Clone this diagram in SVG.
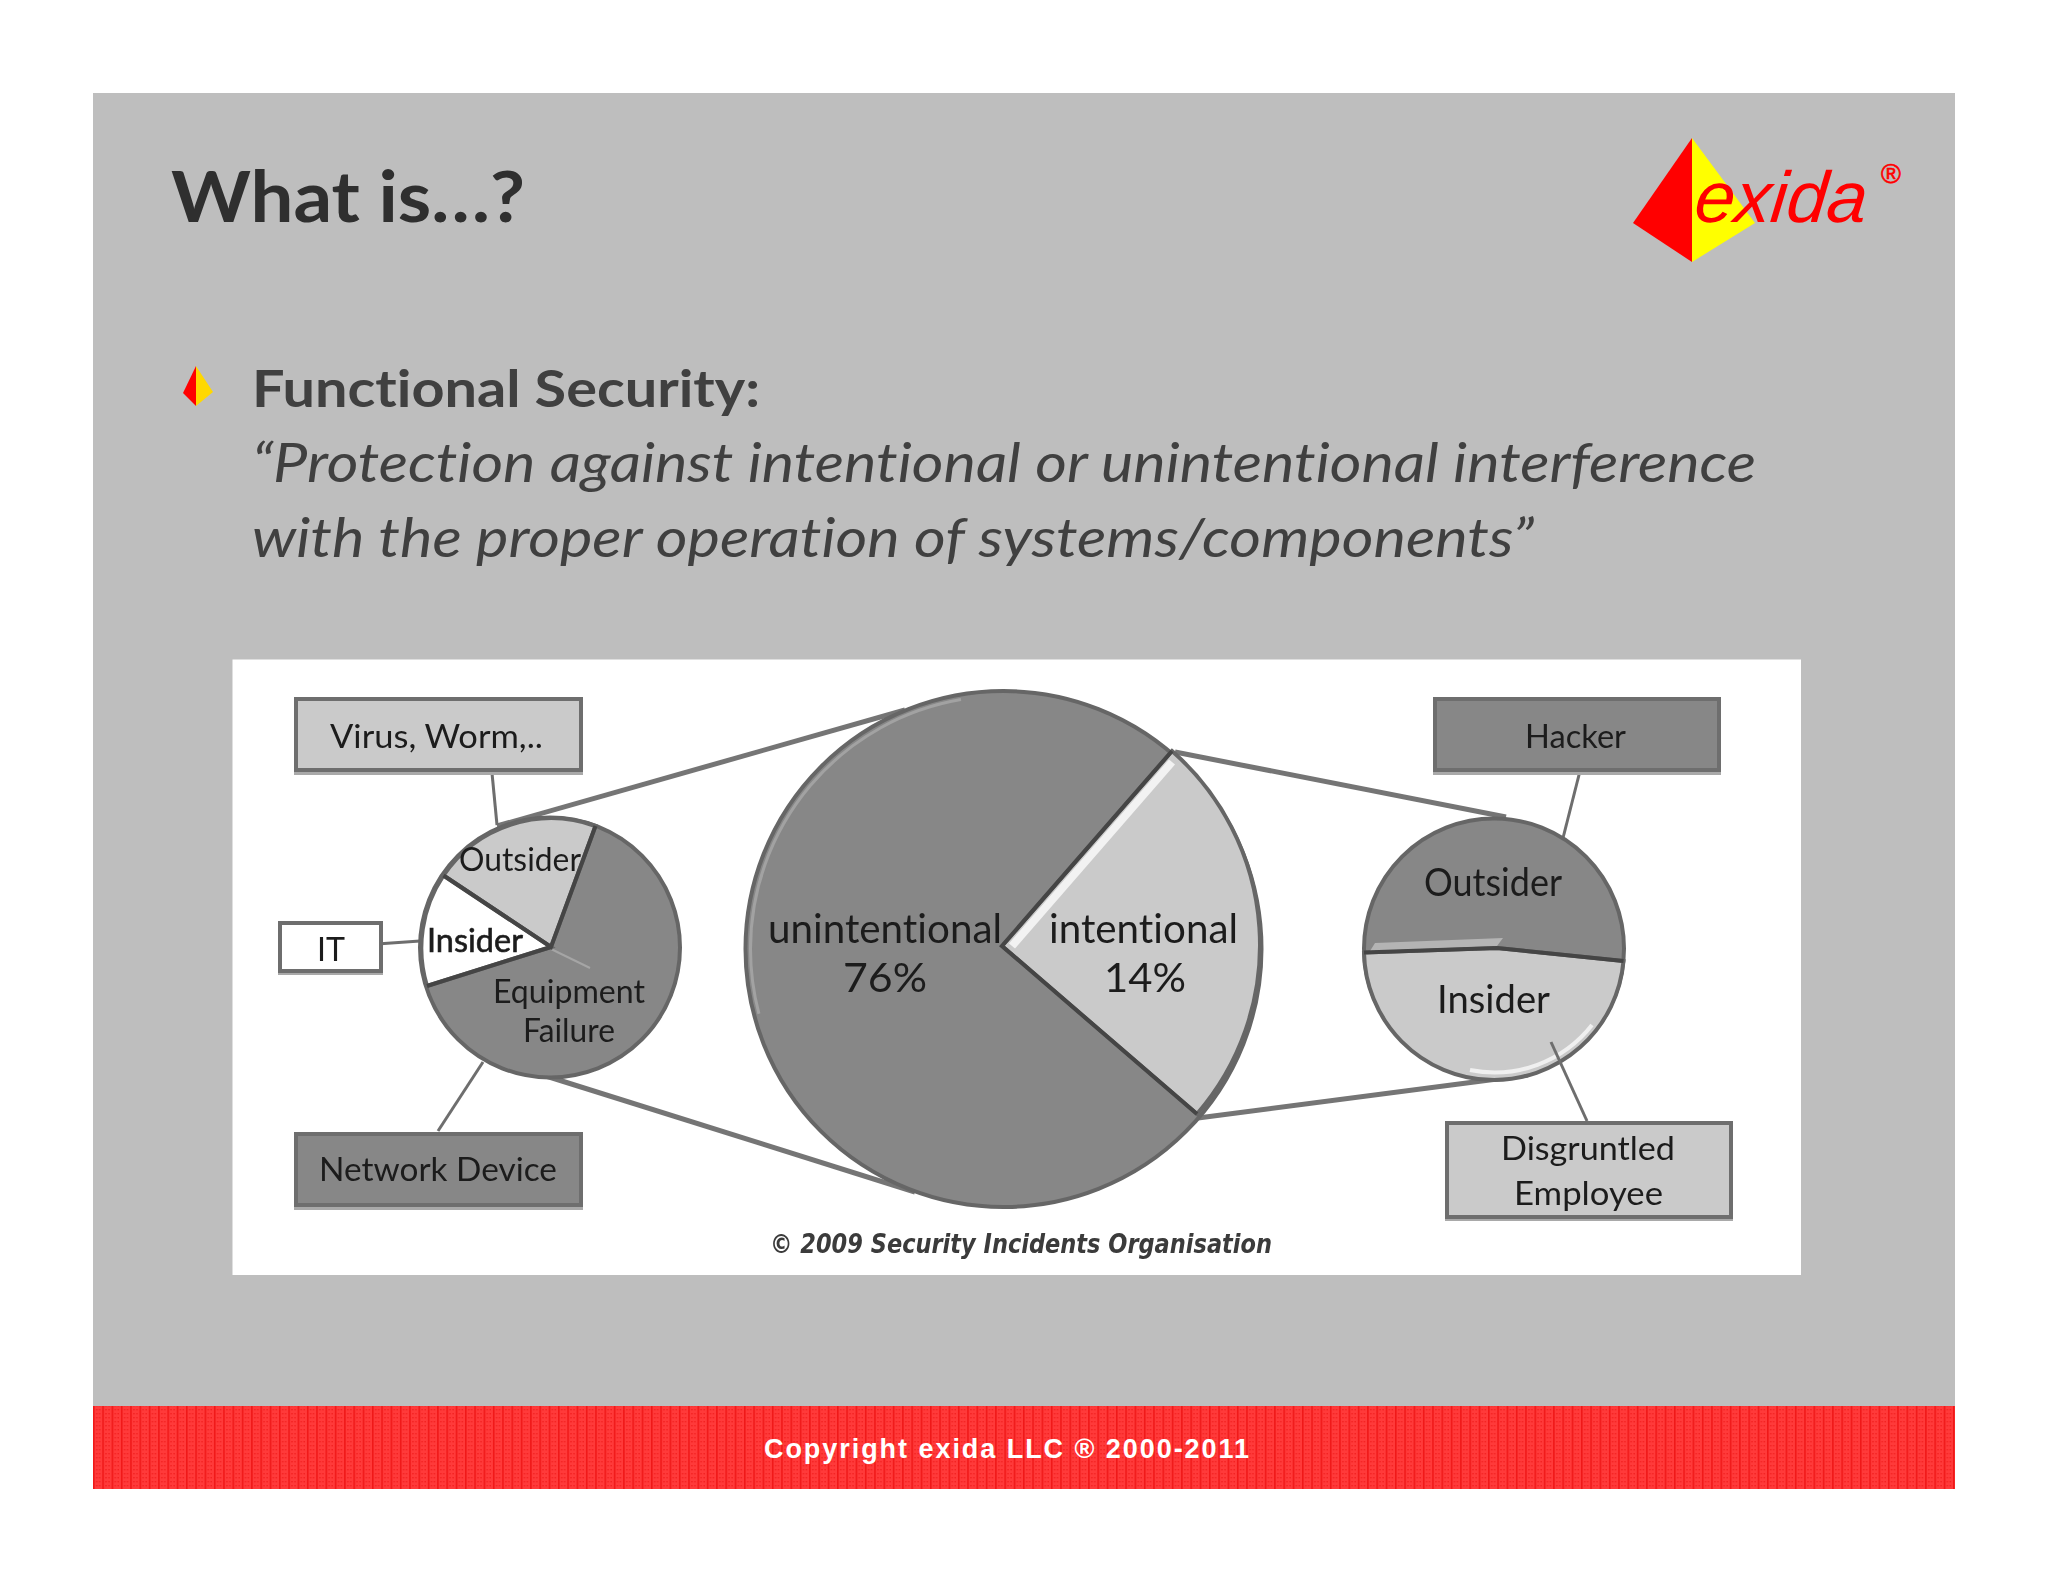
<svg xmlns="http://www.w3.org/2000/svg" width="2048" height="1582" viewBox="0 0 2048 1582">
<style>
.ttl{font-family:Lato,"Open Sans","Liberation Sans",sans-serif;font-variant-ligatures:none}
.lbl{font-family:Lato,"Open Sans","Liberation Sans",sans-serif;font-variant-ligatures:none;fill:#1c1c1c;font-size:32px}
.big{font-size:40px}
.mid{font-size:38px}
.box{stroke:#6e6e6e;stroke-width:4}
.dark{fill:#878787}
.light{fill:#cacaca}
.white{fill:#ffffff}
.shadow{fill:#a9a9a9}
.pie{stroke:#666666;stroke-width:4}
.spoke{stroke:#454545;stroke-width:4;fill:none}
.conn{stroke:#757575;stroke-width:5;fill:none}
.thin{stroke:#6e6e6e;stroke-width:3;fill:none}
</style>
<defs>
<pattern id="weave" width="9.3" height="4" patternUnits="userSpaceOnUse">
<rect width="9.3" height="4" fill="#ff3a3a"/>
<rect width="1.6" height="4" fill="#f01818"/>
<rect x="3" y="1" width="1.4" height="1.4" fill="#f42020"/>
<rect x="6" y="1" width="1.4" height="1.4" fill="#f42020"/>
</pattern>
<filter id="soft" x="-5%" y="-5%" width="110%" height="110%"><feGaussianBlur stdDeviation="0.7"/></filter>
<filter id="ghost" x="-5%" y="-30%" width="110%" height="160%"><feGaussianBlur stdDeviation="0.7"/></filter>
</defs>
<rect width="2048" height="1582" fill="#ffffff"/>
<rect x="93" y="93" width="1862" height="1313" fill="#bebebe"/>
<rect id="footer-band" x="93" y="1406" width="1862" height="83" fill="url(#weave)"/>
<text x="764" y="1458" font-family="'Liberation Sans',Arial,sans-serif" font-weight="700" font-size="27" fill="#ffffff" textLength="485" lengthAdjust="spacing">Copyright exida LLC ® 2000-2011</text>

<g id="logo">
<polygon points="1692,138 1633,223 1692,262" fill="#ff0000"/>
<polygon points="1692,138 1755,223 1692,262" fill="#ffff00"/>
<text transform="translate(1693 222) skewX(-6)" font-family="'Liberation Sans',Arial,sans-serif" font-style="italic" font-size="72" fill="#ff0000" textLength="172" lengthAdjust="spacingAndGlyphs">exida</text>
<text x="1891" y="183" text-anchor="middle" font-family="'Liberation Sans',Arial,sans-serif" font-size="27" stroke="#ff0000" stroke-width="0.6" fill="#ff0000">®</text>
</g>

<text class="ttl" x="171" y="222" font-size="70" font-weight="700" fill="#2f2f2f" textLength="354" lengthAdjust="spacingAndGlyphs">What is…?</text>
<g id="bullet">
<polygon points="196,366 183,393 196,406" fill="#ff0000"/>
<polygon points="196,366 213,392 196,406" fill="#ffd800"/>
</g>
<text class="ttl" x="252" y="407" font-size="52" font-weight="700" fill="#404040" textLength="508" lengthAdjust="spacingAndGlyphs">Functional Security:</text>
<text class="ttl" x="252" y="482" font-size="55" font-style="italic" fill="#404040" textLength="1504" lengthAdjust="spacingAndGlyphs">“Protection against intentional or unintentional interference</text>
<text class="ttl" x="252" y="557" font-size="55" font-style="italic" fill="#404040" textLength="1282" lengthAdjust="spacingAndGlyphs">with the proper operation of systems/components”</text>

<rect id="panel" x="232.500" y="659.500" width="1568.500" height="615.500" fill="#ffffff"/>

<g filter="url(#soft)">
<g id="connectors">
<path class="conn" d="M497 826L905 710"/>
<path class="conn" d="M530 1071L915 1192"/>
<path class="conn" d="M1175 752L1506 817"/>
<path class="conn" d="M1198 1118L1528 1075"/>
<path class="thin" d="M492 773L497 825"/>
<path class="thin" d="M377 944L420 941"/>
<path class="thin" d="M483 1062L438 1131"/>
<path class="thin" d="M1581 767L1563 838"/>
</g>

<g id="pie-left">
<circle class="pie dark" cx="550" cy="947.500" r="130"/>
<path class="pie light" d="M551 947L443.500 875.500A130 130 0 0 1 595.500 826Z"/>
<path class="pie white" d="M551 947L427 986A130 130 0 0 1 443.500 875.500Z"/>
<path d="M551 949L590 968" stroke="#a5a5a5" stroke-width="2" fill="none"/>
<path class="spoke" d="M595.500 826L551 947L443.500 875.500M551 947L427 986"/>
<text class="lbl" x="459" y="871" textLength="122" lengthAdjust="spacingAndGlyphs">Outsider</text>
<text class="lbl" x="427" y="952" stroke="#1c1c1c" stroke-width="0.6" textLength="96" lengthAdjust="spacingAndGlyphs">Insider</text>
<text class="lbl" x="493" y="1003" textLength="152" lengthAdjust="spacingAndGlyphs">Equipment</text>
<text class="lbl" x="523" y="1042" textLength="92" lengthAdjust="spacingAndGlyphs">Failure</text>
</g>

<g id="pie-center">
<circle class="pie dark" cx="1003.500" cy="949" r="258"/>
<circle cx="1003.500" cy="949" r="253" fill="none" stroke="#a2a2a2" stroke-width="3" stroke-dasharray="420 1200" stroke-dashoffset="-729"/>
<path class="pie light" d="M1002 946L1172 751A258 258 0 0 1 1197 1114Z"/>
<path d="M1012 946L1172 762" stroke="#f2f2f2" stroke-width="8" fill="none"/>
<path class="spoke" d="M1172 751L1002 946L1197 1114"/>
<text class="lbl big" x="768" y="943" textLength="234" lengthAdjust="spacingAndGlyphs">unintentional</text>
<text class="lbl big" x="843" y="992" textLength="84" lengthAdjust="spacingAndGlyphs">76%</text>
<text class="lbl big" x="1049" y="943" textLength="189" lengthAdjust="spacingAndGlyphs">intentional</text>
<text class="lbl big" x="1104" y="992" textLength="82" lengthAdjust="spacingAndGlyphs">14%</text>
</g>

<g id="pie-right">
<circle class="pie dark" cx="1494" cy="948.500" r="130"/>
<path class="pie light" d="M1497 948L1623.500 961A130 130 0 0 1 1364 952.600Z"/>
<path d="M1592 1025A124 124 0 0 1 1470 1070" stroke="#f0f0f0" stroke-width="4" fill="none"/>
<polygon points="1370,951 1375,943 1503,938 1497,946" fill="#b4b4b4"/>
<path class="spoke" d="M1364 952.600L1497 948L1623.500 961"/>
<text class="lbl mid" x="1424" y="896" textLength="138" lengthAdjust="spacingAndGlyphs">Outsider</text>
<text class="lbl mid" x="1437" y="1013" textLength="113" lengthAdjust="spacingAndGlyphs">Insider</text>
</g>

<path id="connector-disgruntled" class="thin" d="M1551 1042L1587 1121"/>

<g id="box-virus">
<rect class="shadow" x="294" y="701" width="289" height="74"/>
<rect class="box light" x="296" y="699" width="285" height="71"/>
<text class="lbl" x="330" y="748" textLength="213" lengthAdjust="spacingAndGlyphs">Virus, Worm,..</text>
</g>
<g id="box-it">
<rect class="shadow" x="278" y="925" width="105" height="50"/>
<rect class="box white" x="280" y="923" width="101" height="48"/>
<text class="lbl" x="317" y="961" textLength="28" lengthAdjust="spacingAndGlyphs">IT</text>
</g>
<g id="box-network">
<rect class="shadow" x="294" y="1136" width="289" height="74"/>
<rect class="box dark" x="296" y="1134" width="285" height="71"/>
<text class="lbl" x="319" y="1181" textLength="238" lengthAdjust="spacingAndGlyphs">Network Device</text>
</g>
<g id="box-hacker">
<rect class="shadow" x="1433" y="701" width="288" height="74"/>
<rect class="box dark" x="1435" y="699" width="284" height="71"/>
<text class="lbl" x="1525" y="748" textLength="101" lengthAdjust="spacingAndGlyphs">Hacker</text>
</g>
<g id="box-disgruntled">
<rect class="shadow" x="1445" y="1125" width="288" height="96"/>
<rect class="box light" x="1447" y="1123" width="284" height="94"/>
<text class="lbl" x="1501" y="1160" textLength="174" lengthAdjust="spacingAndGlyphs">Disgruntled</text>
<text class="lbl" x="1514" y="1205" textLength="149" lengthAdjust="spacingAndGlyphs">Employee</text>
</g>
</g>

<text id="credit" x="770" y="1253" font-family="'DejaVu Sans',sans-serif" font-style="italic" font-weight="700" font-size="27" fill="#3a3a3a" filter="url(#ghost)" textLength="502" lengthAdjust="spacingAndGlyphs">© 2009 Security Incidents Organisation</text>
</svg>
